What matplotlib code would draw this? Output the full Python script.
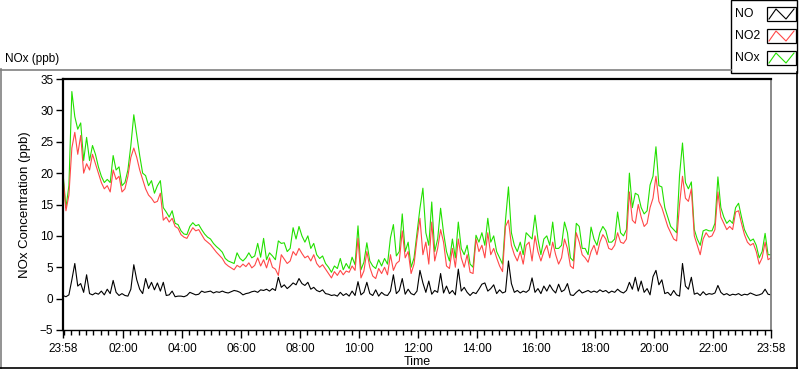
import numpy as np
import matplotlib
matplotlib.use('Agg')
import matplotlib.pyplot as plt
from matplotlib.lines import Line2D
from matplotlib.patches import Rectangle

# 24 h window 23:58 -> 23:58, one sample every 6 min (241 samples)
step_min = 6

no = [
    0.5, 0.3, 0.6, 3.0, 5.6, 2.0, 2.4, 1.0, 3.8, 0.8,
    0.6, 0.9, 0.7, 1.2, 0.6, 1.5, 0.8, 2.9, 1.0, 0.5,
    0.8, 0.5, 0.4, 1.5, 5.4, 3.0, 1.5, 0.8, 3.2, 1.6,
    2.6, 1.4, 2.5, 1.2, 2.6, 0.5, 0.6, 1.2, 0.3, 0.4,
    0.4, 0.3, 0.5, 1.0, 0.8, 0.6, 0.7, 1.2, 1.0, 1.1,
    1.2, 0.9, 1.1, 1.0, 1.2, 1.0, 0.9, 1.1, 1.3, 1.2,
    1.0, 0.6, 0.8, 0.9, 1.1, 1.2, 1.0, 1.4, 1.3, 1.5,
    1.2, 1.6, 1.3, 3.4, 1.8, 2.2, 1.6, 2.0, 2.5, 2.2,
    3.2, 2.4, 2.1, 2.6, 1.5, 1.8, 1.3, 1.1, 1.4, 0.8,
    0.7, 0.5, 0.6, 0.4, 1.0, 0.5, 0.8, 0.4, 1.2, 0.5,
    2.7, 0.6, 1.0, 2.6, 0.8, 0.5, 1.4, 0.4, 1.0, 0.6,
    0.5, 1.2, 3.8, 0.8, 1.3, 3.2, 0.7, 1.5, 0.8, 0.6,
    1.2, 4.5, 2.5, 1.0, 2.8, 0.7, 1.3, 1.0, 4.0, 0.9,
    2.0, 0.8, 1.3, 0.6, 4.7, 1.2, 1.8, 1.0, 0.5, 1.0,
    0.8, 1.5, 2.3, 2.5, 1.2, 1.6, 2.2, 0.8, 1.4, 0.9,
    1.1, 6.0, 2.4, 1.0, 1.3, 0.9, 1.2, 1.0, 1.4, 3.3,
    1.0, 1.6, 0.8, 2.0, 1.2, 2.2, 1.4, 0.9, 2.3, 1.1,
    1.4, 2.4, 0.6, 0.5, 1.0, 1.4, 0.9, 1.1, 1.3, 1.0,
    1.2, 1.0, 1.4, 1.1, 1.3, 0.9, 1.2, 1.0, 1.5, 1.1,
    0.9, 1.3, 2.6, 1.5, 3.4, 1.2, 2.8, 1.0, 1.6, 0.6,
    3.5, 4.5, 2.2, 3.0, 0.8, 1.0, 0.5, 1.3, 0.6, 0.4,
    5.6, 2.0, 1.5, 3.4, 0.7, 0.9, 0.5, 1.1, 0.6, 0.8,
    0.7, 0.9, 2.1, 1.0, 0.6, 0.8, 0.5, 0.7, 0.6, 0.8,
    0.5, 0.7, 0.6, 0.9, 0.7, 0.5, 0.6, 0.8, 1.5, 0.7, 0.6,
]

no2 = [
    19.5, 14.0, 16.5, 24.0, 26.5, 23.0, 26.0, 20.0, 21.5, 20.5,
    23.0, 21.5, 20.0, 18.5, 17.5, 18.0, 17.0, 20.5, 19.0, 19.5,
    17.0, 17.5, 19.5, 22.5, 24.0, 22.5, 20.5, 19.0, 17.5, 16.5,
    16.0, 15.3, 15.5, 16.8, 12.5, 13.0, 12.2, 12.8, 11.5, 11.2,
    10.2, 9.8, 9.6, 10.5, 11.3, 10.8, 11.0, 10.2, 9.4, 9.0,
    8.6, 8.0, 7.4, 6.9, 6.4, 5.6, 5.2, 4.9, 4.6, 5.3,
    5.0, 5.5, 5.1, 5.7, 4.9, 5.3, 6.5, 5.2, 6.2, 4.9,
    6.5, 5.0, 4.7, 3.7, 7.0, 6.3, 5.6, 6.0, 7.5, 6.9,
    8.0, 7.2, 6.5, 6.8, 6.0, 7.0, 5.6, 5.0, 5.4, 4.7,
    4.0, 3.3, 4.3, 3.7, 4.5, 3.8, 4.4, 4.2, 5.2, 4.5,
    9.6, 3.3, 4.4, 7.5, 5.0, 3.6, 3.2, 4.8, 4.0, 5.0,
    3.8, 7.0, 4.5, 5.6, 6.0, 10.8, 6.5, 7.5, 4.0, 5.5,
    9.5, 12.8, 7.0, 9.0, 5.5, 12.2, 6.0, 8.0, 11.0, 9.0,
    5.2, 4.8, 8.0, 5.0, 9.5, 6.5, 5.0, 7.0, 4.2, 4.0,
    9.5, 7.5, 8.5, 6.5, 10.5, 7.0, 8.0, 6.5, 5.2, 4.3,
    11.5, 12.5, 8.5, 7.0, 6.0, 7.5, 5.5, 8.5, 9.0, 6.0,
    10.0, 7.5, 6.0, 7.5, 8.5, 6.5, 9.0, 7.0, 5.5, 6.5,
    9.5, 8.0, 5.2, 4.8, 10.5, 9.0, 7.0, 6.5, 5.8, 7.5,
    8.5, 7.0, 9.0, 10.2, 9.5, 8.0, 7.8, 8.5, 10.5, 9.0,
    8.8, 9.5, 17.0, 12.5, 12.0, 15.0, 13.0, 11.5, 12.0, 14.5,
    16.0, 19.5, 15.5, 14.5, 13.0, 11.5, 10.5, 9.5, 9.2, 15.0,
    19.5, 16.0, 15.5, 17.5, 10.0, 8.5, 7.0, 9.5, 10.5, 9.8,
    10.0, 11.0, 17.0, 13.0, 12.0, 11.0, 11.5, 11.0, 13.8, 14.0,
    12.0, 10.2, 9.0, 8.5, 8.8, 7.5, 5.5, 6.5, 9.0, 6.2, 6.5,
]

nox = [
    20.0, 14.5, 18.0, 33.0, 29.0, 27.0, 28.0, 22.0, 25.7, 22.0,
    24.4, 23.0, 21.0, 19.5, 18.5, 19.0, 18.5, 22.8, 20.5, 21.0,
    18.0, 18.5, 20.5, 24.4, 29.3, 26.0, 22.8, 20.0, 19.6, 18.0,
    18.8, 16.8, 18.0, 18.8, 14.5, 13.8, 13.0, 14.0, 12.0, 11.8,
    10.8, 10.3, 10.2, 11.5, 12.1, 11.6, 11.8, 11.0, 10.3, 9.8,
    9.5, 8.8, 8.3, 7.9, 7.4, 6.4, 6.0, 5.8, 5.6, 7.3,
    6.4, 6.0, 6.5, 7.3, 6.5, 6.8, 8.8, 6.6, 9.6, 6.2,
    7.3, 6.8, 6.2, 9.2, 8.8, 8.9, 7.5, 8.0, 11.3, 9.5,
    11.5, 10.0, 9.0, 10.0, 8.0, 8.8, 7.0, 6.4, 6.8, 5.6,
    5.0, 4.2, 5.2, 4.8, 6.4, 4.6, 5.6, 4.8, 6.6, 5.4,
    11.6, 4.6, 5.8, 8.9, 6.0, 5.2, 4.8, 6.2, 5.2, 6.4,
    5.5, 9.7, 11.8, 6.8, 7.5, 13.5, 7.5, 9.0, 5.0, 6.5,
    10.5, 14.4, 17.6, 10.5, 8.5, 15.4, 7.5, 9.5, 14.4, 10.5,
    7.5, 6.0, 9.5, 6.5, 12.2, 8.0, 7.0, 8.5, 5.5, 5.0,
    10.1, 9.0, 10.5, 8.5, 12.8, 9.0, 10.0, 7.5, 6.5, 5.5,
    12.5, 17.8, 10.5, 8.5, 7.5, 9.0, 7.0, 10.5, 10.0, 9.5,
    13.3, 9.5, 7.0, 9.5, 10.0, 8.5, 12.2, 8.0, 8.0, 8.5,
    12.2, 10.5, 6.5, 6.0, 12.0, 11.5, 8.0, 8.0, 7.0, 11.4,
    9.5, 8.5, 10.5, 11.5, 10.8, 9.0, 9.0, 9.5, 13.8, 10.5,
    10.0, 11.0, 20.0, 14.5, 16.8, 16.5, 14.5, 13.5, 14.0, 18.1,
    19.5, 24.2, 18.0, 17.8, 14.5, 13.0, 11.5, 11.0, 10.5, 19.7,
    24.8, 18.5, 17.5, 18.6, 11.0, 9.5, 8.5, 10.8, 11.0, 10.8,
    10.8, 12.0, 19.4, 14.5, 13.0, 12.0, 12.5, 12.0, 14.5, 15.2,
    13.0, 11.0, 10.0, 9.2, 9.5, 8.5, 6.5, 7.5, 10.4, 7.0, 7.0,
]

tick_pos = [0, 122, 242, 362, 482, 602, 722, 842, 962, 1082, 1202, 1322, 1440]
tick_labels = ['23:58', '02:00', '04:00', '06:00', '08:00', '10:00', '12:00',
               '14:00', '16:00', '18:00', '20:00', '22:00', '23:58']

W, H = 800, 369
plt.rcParams['font.family'] = ['Liberation Sans', 'DejaVu Sans']
fig = plt.figure(figsize=(W / 100, H / 100), dpi=100)
fig.patch.set_facecolor('white')


def fx(px):
    return px / W


def fy(py):
    return 1 - py / H


def fig_line(xs, ys, color, lw=1.0):
    fig.add_artist(Line2D([fx(x) for x in xs], [fy(y) for y in ys],
                          color=color, lw=lw, transform=fig.transFigure))


# outer panel frame
fig_line([0.5, 0.5], [69, 369], '#808080', 1.2)
fig_line([0, 731], [69.5, 69.5], '#808080', 1.2)
fig_line([0, 797], [367.5, 367.5], 'black', 1.2)
fig_line([796.5, 796.5], [72, 369], 'black', 1.2)

fig.text(fx(5), fy(59), 'NOx (ppb)', fontsize=8.5, va='center', ha='left')

ax = fig.add_axes([fx(63), fy(330), fx(771 - 63), (330 - 79) / H])
t = np.arange(len(no2)) * step_min
ax.plot(t, nox, color='#22e000', lw=0.8)
ax.plot(t, no2, color='#ff4848', lw=0.8)
ax.plot(t, no, color='black', lw=0.8)

ax.set_xlim(0, 1440)
ax.set_ylim(-5, 35)
ax.set_yticks(range(-5, 36, 5))
ax.set_xticks(tick_pos)
ax.set_xticklabels(tick_labels)
ax.set_xticks([m for m in range(2, 1440, 15) if m not in tick_pos], minor=True)
ax.tick_params(axis='both', which='major', labelsize=8.5, length=5, width=1,
               color='black', pad=2)
ax.tick_params(axis='x', which='major', length=6, pad=3)
ax.tick_params(axis='x', which='minor', length=3.5, width=1, color='black')

for side in ['left', 'top']:
    ax.spines[side].set_linewidth(1.6)
    ax.spines[side].set_color('black')
ax.spines['bottom'].set_linewidth(1.0)
ax.spines['bottom'].set_color('black')
ax.spines['right'].set_linewidth(1.3)
ax.spines['right'].set_color('#808080')

ax.set_xlabel('Time', fontsize=9, labelpad=1)
ax.set_ylabel('NOx Concentration (ppb)', fontsize=9.5)
ax.yaxis.set_label_coords((31 - 63) / 708, 0.5)

# legend panel (top right)
fig.add_artist(Rectangle((fx(730.5), fy(72.5)), fx(797 - 730.5), (72.5 - 0) / H,
                         transform=fig.transFigure, facecolor='white',
                         edgecolor='black', lw=1.0))
leg_names = ['NO', 'NO2', 'NOx']
leg_colors = ['black', '#ff4848', '#22e000']
leg_rows = [14, 36, 58]
for name, col, yc in zip(leg_names, leg_colors, leg_rows):
    fig.text(fx(735), fy(yc), name, fontsize=8.8, va='center', ha='left')
    fig.add_artist(Rectangle((fx(767), fy(yc + 7)), fx(29), 14 / H,
                             transform=fig.transFigure, facecolor='white',
                             edgecolor='black', lw=0.9))
    zx = [769, 776, 786, 794]
    zy = [yc + 5, yc - 5, yc + 5, yc - 5]
    fig_line(zx, zy, col, 0.8)

fig.savefig('out.png', dpi=100, facecolor='white')
